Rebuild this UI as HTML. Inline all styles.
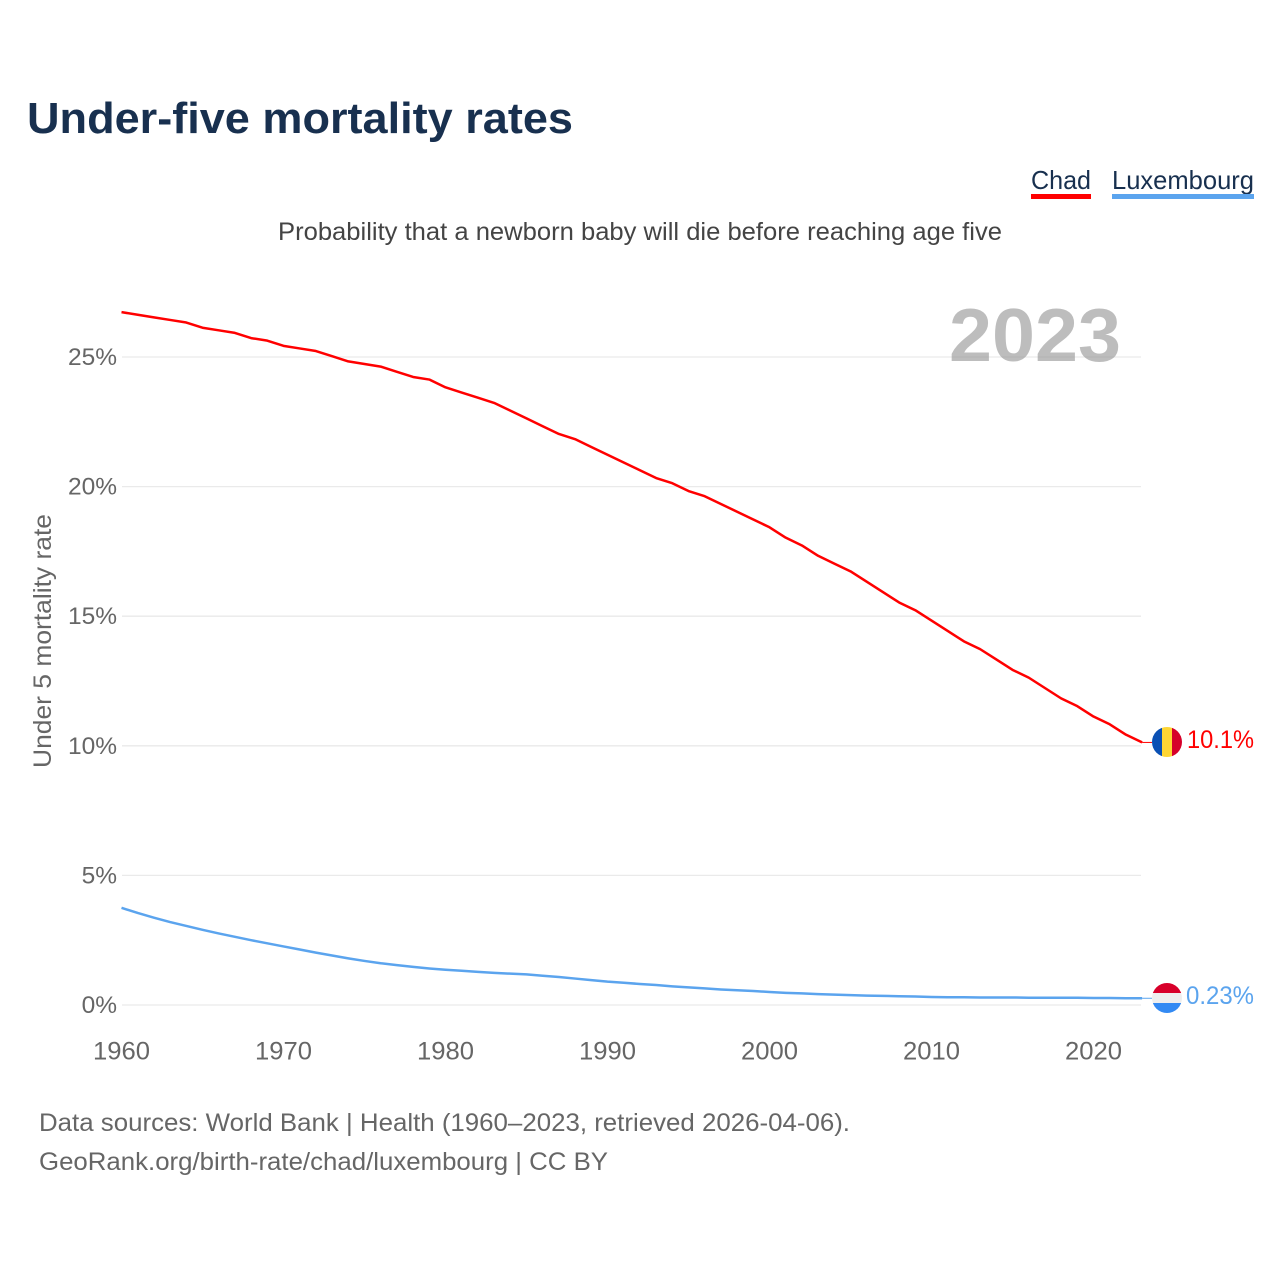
<!DOCTYPE html>
<html lang="en">
<head>
<meta charset="utf-8">
<title>Under-five mortality rates</title>
<style>
html,body{margin:0;padding:0;background:#fff;}
svg{display:block;font-family:"Liberation Sans",Arial,sans-serif;}
</style>
</head>
<body>
<svg id="chart" width="1280" height="1280" viewBox="0 0 1280 1280" xmlns="http://www.w3.org/2000/svg">
  <rect width="1280" height="1280" fill="#ffffff"/>
  <text x="27" y="133" font-size="44" font-weight="700" fill="#18304f" textLength="546" lengthAdjust="spacingAndGlyphs">Under-five mortality rates</text>

  <g>
    <text x="1031" y="189" font-size="26" fill="#18304f" textLength="60" lengthAdjust="spacingAndGlyphs">Chad</text>
    <rect x="1031" y="194" width="60" height="5" fill="#ff0000"/>
  </g>
  <g>
    <text x="1112" y="189" font-size="26" fill="#18304f" textLength="142" lengthAdjust="spacingAndGlyphs">Luxembourg</text>
    <rect x="1112" y="194" width="142" height="5" fill="#5ba4ee"/>
  </g>

  <text x="278" y="240" font-size="25" fill="#444444" textLength="724" lengthAdjust="spacingAndGlyphs">Probability that a newborn baby will die before reaching age five</text>

  <g id="grid"></g>
  <g id="yticks"></g>
  <g id="xticks"></g>

  <text x="949" y="361" font-size="75" font-weight="700" fill="#9a9a9a" fill-opacity="0.65" textLength="172" lengthAdjust="spacingAndGlyphs">2023</text>

  <text transform="translate(51 768) rotate(-90)" x="0" y="0" font-size="25" fill="#666666" textLength="254" lengthAdjust="spacingAndGlyphs">Under 5 mortality rate</text>

  <g id="series"></g>

  <defs>
    <clipPath id="clip-chad"><circle cx="1167" cy="742" r="15"/></clipPath>
    <clipPath id="clip-lux"><circle cx="1167" cy="998" r="15"/></clipPath>
  </defs>
  <g clip-path="url(#clip-chad)">
    <rect x="1152" y="727" width="10" height="30" fill="#0a50b4"/>
    <rect x="1162" y="727" width="10" height="30" fill="#fed634"/>
    <rect x="1172" y="727" width="10" height="30" fill="#d6002a"/>
  </g>
  <g clip-path="url(#clip-lux)">
    <rect x="1152" y="983" width="30" height="10" fill="#d8002a"/>
    <rect x="1152" y="993" width="30" height="10" fill="#eeeeee"/>
    <rect x="1152" y="1003" width="30" height="10" fill="#338af3"/>
  </g>
  <text x="1187" y="748" font-size="25" fill="#ff0000" textLength="67" lengthAdjust="spacingAndGlyphs">10.1%</text>
  <text x="1186" y="1004" font-size="25" fill="#5ba4ee" textLength="68" lengthAdjust="spacingAndGlyphs">0.23%</text>

  <text x="39" y="1131" font-size="25" fill="#666666" textLength="811" lengthAdjust="spacingAndGlyphs">Data sources: World Bank | Health (1960–2023, retrieved 2026-04-06).</text>
  <text x="39" y="1170" font-size="25" fill="#666666" textLength="569" lengthAdjust="spacingAndGlyphs">GeoRank.org/birth-rate/chad/luxembourg | CC BY</text>
</svg>

<script>
const startYear = 1960;
const chadValues = [
  26.73,26.63,26.53,26.43,26.33,26.13,26.03,25.93,25.73,25.63,
  25.43,25.33,25.23,25.03,24.83,24.73,24.63,24.43,24.23,24.13,
  23.83,23.63,23.43,23.23,22.93,22.63,22.33,22.03,21.83,21.53,
  21.23,20.93,20.63,20.33,20.13,19.83,19.63,19.33,19.03,18.73,
  18.43,18.03,17.73,17.33,17.03,16.73,16.33,15.93,15.53,15.23,
  14.83,14.43,14.03,13.73,13.33,12.93,12.63,12.23,11.83,11.53,
  11.13,10.83,10.43,10.13
];
const luxembourgValues = [
  3.75,3.55,3.37,3.20,3.05,2.90,2.76,2.63,2.50,2.38,
  2.26,2.14,2.02,1.91,1.80,1.70,1.61,1.54,1.47,1.41,
  1.36,1.32,1.28,1.24,1.21,1.18,1.13,1.08,1.02,0.96,
  0.90,0.86,0.81,0.77,0.72,0.68,0.64,0.60,0.57,0.54,
  0.50,0.47,0.45,0.42,0.40,0.38,0.36,0.35,0.34,0.33,
  0.31,0.30,0.30,0.29,0.29,0.29,0.28,0.28,0.28,0.28,
  0.27,0.27,0.26,0.26
];
const yTickValues = [0,5,10,15,20,25];
const xTickYears = [1960,1970,1980,1990,2000,2010,2020];

const NS = 'http://www.w3.org/2000/svg';
function xScale(year){ return 121.5 + (year - 1960) * 16.2; }
function yScale(value){ return 1005 - value * 25.92; }
function make(tag, parent, attrs){
  const el = document.createElementNS(NS, tag);
  for (const k in attrs) el.setAttribute(k, attrs[k]);
  parent.appendChild(el);
  return el;
}

const grid = document.getElementById('grid');
const yticks = document.getElementById('yticks');
yTickValues.forEach(function(v){
  const line = make('line', grid, {x1:122, x2:1141, y1:yScale(v), y2:yScale(v), stroke:'#eaeaea', 'stroke-width':1.3});
  
  
  const label = make('text', yticks, {x:117, y:yScale(v)+8, 'font-size':24.5, fill:'#666666', 'text-anchor':'end'});
  
  
  label.textContent = v + '%';
});

const xticks = document.getElementById('xticks');
xTickYears.forEach(function(y){
  const label = make('text', xticks, {x:xScale(y), y:1059.5, 'font-size':25, fill:'#666666', 'text-anchor':'middle', textLength:57, lengthAdjust:'spacingAndGlyphs'});
  
  
  label.textContent = String(y);
});

function linePath(values){
  return values.map(function(v,i){
    return (i ? 'L' : 'M') + xScale(startYear + i).toFixed(2) + ' ' + yScale(v).toFixed(2);
  }).join(' ');
}
const series = document.getElementById('series');

const chadLine = make('path', series, {d:linePath(chadValues), fill:'none', stroke:'#ff0000', 'stroke-width':2.5, 'stroke-linejoin':'round'});



const luxLine = make('path', series, {d:linePath(luxembourgValues), fill:'none', stroke:'#5ba4ee', 'stroke-width':2.5, 'stroke-linejoin':'round'});



const chadEnd = yScale(chadValues[chadValues.length-1]);
const chadLead = make('line', series, {x1:xScale(2023), x2:1152, y1:chadEnd, y2:chadEnd, stroke:'#ff0000', 'stroke-width':1});



const luxEnd = yScale(luxembourgValues[luxembourgValues.length-1]);
const luxLead = make('line', series, {x1:xScale(2023), x2:1152, y1:luxEnd, y2:luxEnd, stroke:'#5ba4ee', 'stroke-width':1});


</script>
</body>
</html>
